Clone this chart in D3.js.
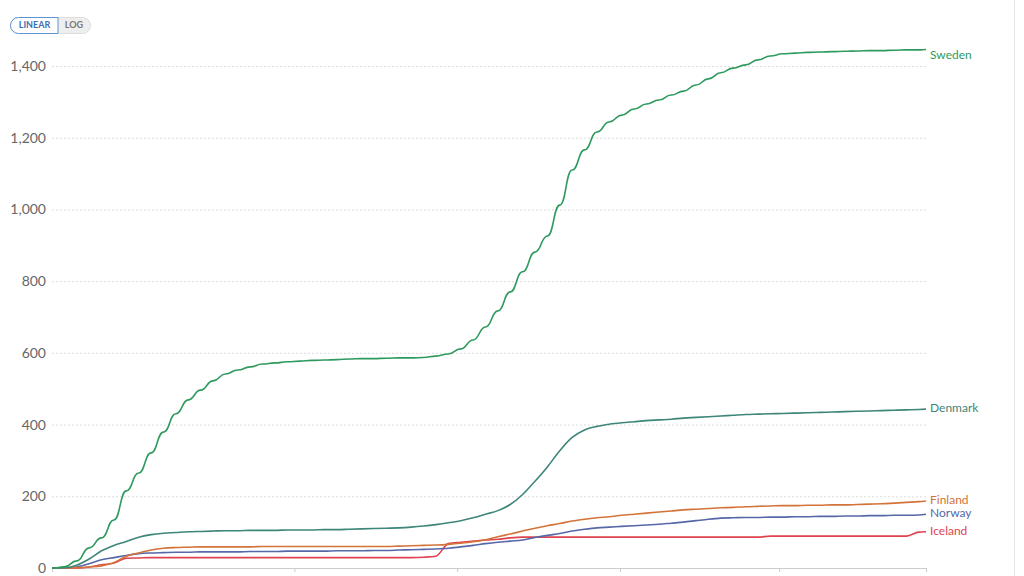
<!DOCTYPE html>
<html>
<head>
<meta charset="utf-8">
<script src="https://cdn.jsdelivr.net/npm/d3@7"></script>
<style>
  html, body { margin: 0; padding: 0; background: #fff; }
  svg { display: block; font-family: Lato, "Open Sans", sans-serif; }
</style>
</head>
<body>
<div id="chart"></div>
<script>
// weekly sample dates (last one is the final day shown)
var dates = ["2020-02-15","2020-02-22","2020-02-29","2020-03-07","2020-03-14","2020-03-21","2020-03-28",
  "2020-04-04","2020-04-11","2020-04-18","2020-04-25","2020-05-02","2020-05-09","2020-05-16","2020-05-23","2020-05-30",
  "2020-06-06","2020-06-13","2020-06-20","2020-06-27","2020-07-04","2020-07-11","2020-07-18","2020-07-25",
  "2020-08-01","2020-08-08","2020-08-15","2020-08-22","2020-08-29","2020-09-05","2020-09-12","2020-09-19","2020-09-26",
  "2020-10-03","2020-10-10","2020-10-17","2020-10-24","2020-10-31","2020-11-07","2020-11-14","2020-11-21","2020-11-28",
  "2020-12-05","2020-12-12","2020-12-19","2020-12-26","2021-01-02","2021-01-09","2021-01-16","2021-01-23","2021-01-30",
  "2021-02-06","2021-02-13","2021-02-20","2021-02-27","2021-03-06","2021-03-13","2021-03-20","2021-03-27",
  "2021-04-03","2021-04-10","2021-04-17","2021-04-24","2021-05-01","2021-05-08","2021-05-15","2021-05-22","2021-05-29",
  "2021-06-05","2021-06-12","2021-06-19","2021-06-23"];

var sweden = [0,3,20,56,84,134,215,265,321,379,430,469,496,522,541,552,561,569,572,575,
  577,579,580,581,583,584,584,585,586,586,587,591,597,611,636,672,717,770,826,881,
  926,1012,1110,1166,1216,1244,1263,1280,1294,1305,1319,1330,1347,1364,1381,1394,1403,1417,1428,1434,
  1436,1438,1439,1440,1441,1442,1443,1443,1444,1445,1445,1446];

var denmark = [0,1,8,25,48,63,74,86,93,97,99,101,102,103,104,104,105,105,105,106,
  106,106,107,107,108,109,110,111,112,114,117,121,126,132,140,150,160,177,205,242,
  282,327,364,385,395,401,405,408,411,413,415,418,420,422,424,426,428,429,430,431,
  432,433,434,435,436,437,438,439,440,441,442,443];

var finland = [0,0,1,3,6,15,33,42,50,55,57,58,59,59,59,59,59,60,60,60,
  60,60,60,60,60,60,60,60,61,62,63,64,66,69,73,79,87,95,103,111,
  118,124,131,136,140,143,147,150,153,156,159,162,164,166,168,169,171,172,173,174,
  174,175,175,176,176,177,178,179,181,183,185,187];

var norway = [0,0,3,12,23,29,35,40,42,43,44,44,45,45,45,45,46,46,46,47,
  47,47,47,48,48,48,49,49,50,51,52,53,55,59,63,68,72,75,78,85,
  91,96,103,108,112,114,116,118,120,122,125,128,132,136,139,140,141,141,142,142,
  143,143,144,144,145,145,146,146,147,147,148,150];

var iceland = [0,0,0,3,9,14,27,28,29,29,29,29,29,29,29,29,29,29,29,29,
  29,29,29,29,29,29,29,29,29,29,30,33,68,72,75,78,80,84,86,86,
  86,86,86,86,86,86,86,86,86,86,86,86,86,86,86,86,86,86,89,89,
  89,89,89,89,89,89,89,89,89,89,100,101];

var countries = ["Sweden", "Denmark", "Finland", "Norway", "Iceland"];
var seriesValues = [sweden, denmark, finland, norway, iceland];
var colors = ["#2e9a5e", "#3e857a", "#d3733a", "#5668a8", "#e0434f"];

var yTicks = [0, 200, 400, 600, 800, 1000, 1200, 1400];
var xTicks = ["2020-07-01", "2020-10-01", "2021-01-01", "2021-04-01"];

var width = 1024, height = 576;
var margin = {top: 66, right: 98, bottom: 8, left: 52};

var parse = d3.timeParse("%Y-%m-%d");
var dateObjs = dates.map(parse);

var svg = d3.select("#chart").append("svg")
    .attr("width", width)
    .attr("height", height);

var x = d3.scaleTime()
    .domain([dateObjs[0], dateObjs[dateObjs.length - 1]])
    .range([margin.left, width - margin.right]);

var y = d3.scaleLinear()
    .domain([0, 1400])
    .range([height - margin.bottom, margin.top]);

//right border of the panel
svg.append("line")
    .attr("x1", 1014.5).attr("x2", 1014.5)
    .attr("y1", 0).attr("y2", height)
    .attr("stroke", "#e6e6e6");

//scale toggle buttons
var btn = svg.append("g");
btn.append("rect")
    .attr("x", 10.5).attr("y", 17.5)
    .attr("width", 80).attr("height", 16)
    .attr("rx", 8)
    .attr("fill", "#eeeeee")
    .attr("stroke", "#dddddd");
btn.append("path")
    .attr("d", "M58,17.5 H18.5 A8,8 0 0 0 18.5,33.5 H58 Z")
    .attr("fill", "#fff")
    .attr("stroke", "#5b95d2");
btn.append("text")
    .attr("x", 34.5).attr("y", 25.8)
    .attr("text-anchor", "middle")
    .attr("dominant-baseline", "middle")
    .attr("font-size", 9)
    .attr("font-weight", 700)
    .attr("fill", "#3d6fb0")
    .text("LINEAR");
btn.append("text")
    .attr("x", 74).attr("y", 25.8)
    .attr("text-anchor", "middle")
    .attr("dominant-baseline", "middle")
    .attr("font-size", 9)
    .attr("font-weight", 700)
    .attr("fill", "#777")
    .text("LOG");

//y axis with dotted gridlines
var yAxis = d3.axisLeft(y)
    .tickValues(yTicks)
    .tickSize(-(width - margin.left - margin.right))
    .tickPadding(6)
    .tickFormat(d3.format(","));

var gy = svg.append("g")
    .attr("transform", "translate(" + margin.left + ",0)")
    .call(yAxis);
gy.select(".domain").remove();
gy.selectAll(".tick line")
    .attr("stroke", "#dddddd")
    .attr("stroke-dasharray", "2,2")
    .filter(function (d) { return d === 0; }).remove();
gy.selectAll(".tick text")
    .attr("font-family", "Lato, sans-serif")
    .attr("font-size", 14)
    .attr("fill", "#666");

//x axis: baseline and ticks (labels fall below the view)
var xAxis = d3.axisBottom(x)
    .tickValues(xTicks.map(parse).concat([dateObjs[0], dateObjs[dateObjs.length - 1]]))
    .tickSize(4)
    .tickSizeOuter(0)
    .tickFormat("");

var gx = svg.append("g")
    .attr("transform", "translate(0," + y(0) + ")")
    .call(xAxis);
gx.select(".domain").attr("stroke", "#cccccc");
gx.selectAll(".tick line").attr("stroke", "#cccccc");

//lines: Sweden reports in weekly batches, so draw it with soft steps
var lineStep = d3.line()
    .x(function (d) { return x(d.date); })
    .y(function (d) { return y(d.value); })
    .curve(d3.curveBumpX);
var lineSmooth = d3.line()
    .x(function (d) { return x(d.date); })
    .y(function (d) { return y(d.value); })
    .curve(d3.curveMonotoneX);

var series = countries.map(function (name, i) {
    return {
        name: name,
        color: colors[i],
        values: seriesValues[i].map(function (v, j) { return {date: dateObjs[j], value: v}; })
    };
});

svg.append("g").selectAll("path")
    .data(series.slice().reverse())
    .enter()
    .append("path")
    .attr("d", function (d) {
        return d.name == "Sweden" ? lineStep(d.values) : lineSmooth(d.values);
    })
    .attr("fill", "none")
    .attr("stroke", function (d) { return d.color; })
    .attr("stroke-width", 1.6)
    .attr("stroke-linejoin", "round");

//end labels, kept inside the top of the plot
svg.append("g").selectAll("text")
    .data(series)
    .enter()
    .append("text")
    .attr("x", x(dateObjs[dateObjs.length - 1]) + 4)
    .attr("y", function (d) {
        return Math.max(56, y(d.values[d.values.length - 1].value));
    })
    .attr("dominant-baseline", "middle")
    .attr("font-family", "Lato, sans-serif")
    .attr("font-size", 12)
    .attr("fill", function (d) { return d.color; })
    .text(function (d) { return d.name; });
</script>
</body>
</html>
